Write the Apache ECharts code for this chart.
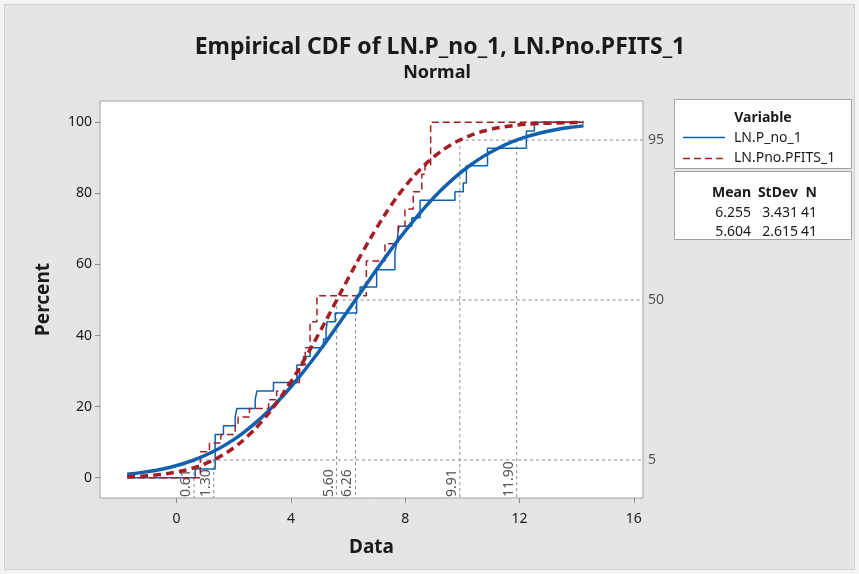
<!DOCTYPE html>
<html><head><meta charset="utf-8">
<script src="https://cdn.jsdelivr.net/npm/echarts@6/dist/echarts.min.js"></script>
<style>
html,body{margin:0;padding:0;background:#f4f4f4}
#wrap{position:relative;width:859px;height:574px}
#frame{position:absolute;left:4px;top:4px;width:849px;height:564px;background:#e5e5e5;border:1px solid #d2d2d2}
#c{position:absolute;left:0;top:0;width:859px;height:574px}
</style>
</head><body><div id="wrap"><div id="frame"></div><div id="c"></div></div>
<script>
// ---- data ----
const xTicks = [0, 4, 8, 12, 16];
const yTicks = [0, 20, 40, 60, 80, 100];
const refLevels = [5, 50, 95];
const bluePct = [0.61, 6.26, 11.90];
const redPct = [1.30, 5.60, 9.91];
const seriesNames = ['LN.P_no_1', 'LN.Pno.PFITS_1'];
const statMean = ['6.255', '5.604'];
const statSd = ['3.431', '2.615'];
const statN = ['41', '41'];
// sorted sample values
const blueData = [0.65, 1.35, 1.35, 1.35, 1.35, 1.64, 2.05, 2.11, 2.75, 2.81, 3.39, 4.21, 4.21, 4.44, 4.67,
  5.14, 5.23, 5.27, 5.55, 6.30, 6.30, 6.42, 7.00, 7.00, 7.64, 7.64, 7.70, 7.74, 7.78, 8.23, 8.52, 8.52,
  9.74, 10.03, 10.14, 10.14, 10.88, 10.88, 12.24, 12.24, 12.52];
const redData = [0.83, 0.83, 0.83, 1.15, 1.55, 2.05, 2.15, 2.55, 3.22, 3.50, 3.90, 4.30, 4.30, 4.50, 4.50,
  4.67, 4.67, 4.67, 4.91, 4.91, 4.91, 6.64, 6.64, 6.64, 6.64, 7.29, 7.29, 7.75, 7.75, 7.99, 7.99, 8.28, 8.28,
  8.58, 8.58, 8.69, 8.89, 8.89, 8.89, 8.89, 8.89];
// fitted CDF curves (percent)
const fitX = [-1.73, -1.25, -0.75, -0.25, 0.25, 0.75, 1.25, 1.75, 2.25, 2.75, 3.25, 3.75, 4.25, 4.75, 5.25, 5.75,
  6.25, 6.75, 7.25, 7.75, 8.25, 8.75, 9.25, 9.75, 10.25, 10.75, 11.25, 11.75, 12.25, 12.75, 13.25, 13.75, 14.24];
const blueFit = [1.00, 1.44, 2.06, 2.90, 4.01, 5.43, 7.23, 9.46, 12.15, 15.35, 19.06, 23.27, 27.95, 33.05, 38.48, 44.15,
  49.94, 55.74, 61.41, 66.85, 71.95, 76.65, 80.86, 84.58, 87.79, 90.49, 92.72, 94.54, 95.97, 97.08, 97.93, 98.55, 99.00];
const redFit = [0.25, 0.44, 0.75, 1.26, 2.03, 3.17, 4.80, 7.03, 9.98, 13.76, 18.40, 23.92, 30.23, 37.20, 44.61, 52.23,
  59.76, 66.94, 73.55, 79.41, 84.42, 88.55, 91.84, 94.36, 96.22, 97.55, 98.46, 99.06, 99.45, 99.69, 99.83, 99.91, 99.95];

// ---- styling ----
const X_MIN = -2.68, X_MAX = 16.32, Y_MIN = -5.7, Y_MAX = 106;
const BLUE = '#1160b0', RED = '#a51d24', GRAY = '#8a8a8a';
const FONT = 'Noto Sans';

function ecdf(vals) {
  const n = vals.length;
  const pts = [[fitX[0], 0]];
  vals.forEach((v, i) => pts.push([v, (i + 1) / n * 100]));
  pts.push([fitX[fitX.length - 1], 100]);
  return pts;
}
const refSegs = [];
refLevels.forEach((p, k) => {
  refSegs.push([Math.min(bluePct[k], redPct[k]), p, X_MAX, p]);
  refSegs.push([bluePct[k], p, bluePct[k], Y_MIN]);
  refSegs.push([redPct[k], p, redPct[k], Y_MIN]);
});
const refLabels = [];
refLevels.forEach((p, k) => {
  refLabels.push([bluePct[k], Y_MIN, bluePct[k].toFixed(2)]);
  refLabels.push([redPct[k], Y_MIN, redPct[k].toFixed(2)]);
});

const chart = echarts.init(document.getElementById('c'), null, {renderer: 'canvas'});
const txt = (x, y, s, o) => Object.assign({type: 'text', x: x, y: y, style: Object.assign({text: s, fill: '#1a1a1a', font: '14px ' + FONT, textAlign: 'left', textVerticalAlign: 'middle'}, o || {})});
chart.setOption({
  backgroundColor: 'transparent',
  animation: false,
  grid: {left: 100, top: 101, width: 543, height: 397, show: true, backgroundColor: '#fff', borderColor: '#a3a3a3', borderWidth: 1, containLabel: false, outerBoundsMode: 'none'},
  xAxis: {
    type: 'value', min: X_MIN, max: X_MAX,
    name: 'Data', nameLocation: 'middle', nameGap: 40,
    nameTextStyle: {fontFamily: FONT, fontSize: 19, fontWeight: 'bold', color: '#1a1a1a'},
    axisLine: {show: false, onZero: false},
    axisTick: {show: true, length: 5, lineStyle: {color: '#8a8a8a'}, customValues: xTicks},
    axisLabel: {customValues: xTicks, fontFamily: FONT, fontSize: 14, color: '#1a1a1a', margin: 14},
    splitLine: {show: false}
  },
  yAxis: [{
    type: 'value', min: Y_MIN, max: Y_MAX,
    name: 'Percent', nameLocation: 'middle', nameGap: 47,
    nameTextStyle: {fontFamily: FONT, fontSize: 19, fontWeight: 'bold', color: '#1a1a1a'},
    axisLine: {show: false, onZero: false},
    axisTick: {show: true, length: 5, lineStyle: {color: '#8a8a8a'}, customValues: yTicks},
    axisLabel: {customValues: yTicks, fontFamily: FONT, fontSize: 14, color: '#1a1a1a', margin: 8},
    splitLine: {show: false}
  }, {
    type: 'value', min: Y_MIN, max: Y_MAX, position: 'right',
    axisLine: {show: false, onZero: false}, axisTick: {show: false}, splitLine: {show: false},
    axisLabel: {customValues: refLevels, fontFamily: FONT, fontSize: 14, color: '#555', margin: 5}
  }],
  series: [
    {type: 'custom', name: 'ref', renderItem: function (params, api) {
        const a = api.coord([api.value(0), api.value(1)]);
        const b = api.coord([api.value(2), api.value(3)]);
        return {type: 'line', shape: {x1: a[0], y1: a[1], x2: b[0], y2: b[1]}, style: {stroke: GRAY, lineWidth: 1, lineDash: [3, 3]}};
      }, data: refSegs, z: 1, silent: true},
    {type: 'custom', name: 'reflab', renderItem: function (params, api) {
        const a = api.coord([api.value(0), api.value(1)]);
        return {type: 'text', x: a[0] - 1, y: a[1] - 1, rotation: Math.PI / 2,
          style: {text: refLabels[params.dataIndex][2], fill: '#555', font: '14px ' + FONT, textAlign: 'left', textVerticalAlign: 'bottom'}};
      }, data: refLabels.map(r => [r[0], r[1]]), z: 1, silent: true},
    {type: 'line', name: seriesNames[0], data: ecdf(blueData), step: 'end', symbol: 'none',
      lineStyle: {color: BLUE, width: 1.5}, z: 3},
    {type: 'line', name: seriesNames[1], data: ecdf(redData), step: 'end', symbol: 'none',
      lineStyle: {color: RED, width: 1.5, type: [7, 4]}, z: 3},
    {type: 'line', name: seriesNames[0] + ' fit', data: fitX.map((x, i) => [x, blueFit[i]]), smooth: 0.3, symbol: 'none',
      lineStyle: {color: BLUE, width: 3.5}, z: 4},
    {type: 'line', name: seriesNames[1] + ' fit', data: fitX.map((x, i) => [x, redFit[i]]), smooth: 0.3, symbol: 'none',
      lineStyle: {color: RED, width: 3.5, type: [8, 5]}, z: 5}
  ],
  graphic: [
    txt(440, 47, 'Empirical CDF of LN.P_no_1, LN.Pno.PFITS_1', {font: 'bold 23px ' + FONT, textAlign: 'center'}),
    txt(437, 73, 'Normal', {font: 'bold 18px ' + FONT, textAlign: 'center'}),
    {type: 'rect', shape: {x: 674.5, y: 99.5, width: 177, height: 69}, style: {fill: '#fff', stroke: '#a3a3a3', lineWidth: 1}},
    {type: 'rect', shape: {x: 674.5, y: 171.5, width: 177, height: 68}, style: {fill: '#fff', stroke: '#a3a3a3', lineWidth: 1}},
    txt(763, 118, 'Variable', {font: 'bold 14px ' + FONT, textAlign: 'center'}),
    {type: 'line', shape: {x1: 683, y1: 137.5, x2: 725, y2: 137.5}, style: {stroke: BLUE, lineWidth: 1.5}},
    {type: 'line', shape: {x1: 683, y1: 158.5, x2: 725, y2: 158.5}, style: {stroke: RED, lineWidth: 1.5, lineDash: [7, 4]}},
    txt(734, 138, seriesNames[0]),
    txt(734, 158.5, seriesNames[1]),
    txt(751, 193.5, 'Mean', {font: 'bold 14px ' + FONT, textAlign: 'right'}),
    txt(798, 193.5, 'StDev', {font: 'bold 14px ' + FONT, textAlign: 'right'}),
    txt(817, 193.5, 'N', {font: 'bold 14px ' + FONT, textAlign: 'right'}),
    txt(751, 213, statMean[0], {textAlign: 'right'}),
    txt(798, 213, statSd[0], {textAlign: 'right'}),
    txt(817, 213, statN[0], {textAlign: 'right'}),
    txt(751, 232, statMean[1], {textAlign: 'right'}),
    txt(798, 232, statSd[1], {textAlign: 'right'}),
    txt(817, 232, statN[1], {textAlign: 'right'})
  ]
});
</script>
</body></html>
